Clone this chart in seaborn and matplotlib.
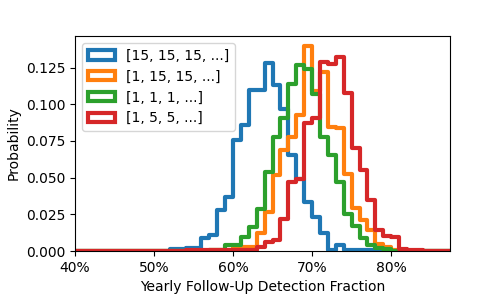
import numpy as np
import pandas as pd
import matplotlib
matplotlib.use("Agg")
import matplotlib.pyplot as plt
from matplotlib.patches import Patch
from matplotlib.ticker import PercentFormatter
import seaborn as sns

# 구간(1% 폭) 시작값과 각 시리즈의 확률값
labels = ["[15, 15, 15, ...]", "[1, 15, 15, ...]", "[1, 1, 1, ...]", "[1, 5, 5, ...]"]
colors = ["#1f77b4", "#ff7f0e", "#2ca02c", "#d62728"]

blue_start = 51
blue = [0.0003, 0.0011, 0.0011, 0.0022, 0.0022, 0.0087, 0.0109, 0.028, 0.037,
        0.0757, 0.086, 0.110, 0.110, 0.128, 0.113, 0.0966, 0.0655, 0.0489,
        0.0336, 0.0234, 0.0121, 0.0007, 0.0041, 0.001, 0.001, 0.001, 0.0005]

orange_start = 57
orange = [0.0005, 0.001, 0.001, 0.002, 0.003, 0.003, 0.0125, 0.0268, 0.0518,
          0.0689, 0.078, 0.0928, 0.1395, 0.1087, 0.1223, 0.0848, 0.0835,
          0.0525, 0.0295, 0.0213, 0.0143, 0.0045, 0.0025, 0.0005]

green_start = 56
green = [0.0003, 0.001, 0.001, 0.004, 0.004, 0.0098, 0.0166, 0.029, 0.054,
         0.078, 0.0905, 0.114, 0.127, 0.124, 0.107, 0.078, 0.0655, 0.047,
         0.025, 0.017, 0.009, 0.004, 0.0018, 0.0015]

red_start = 52
red = [0.0003, 0.0003, 0.0005, 0.0005, 0.0005, 0.0007, 0.0007, 0.0007, 0.001,
       0.001, 0.001, 0.003, 0.0064, 0.0075, 0.0216, 0.047, 0.049, 0.087,
       0.0905, 0.1285, 0.1275, 0.1325, 0.108, 0.070, 0.055, 0.0345, 0.0143,
       0.0105, 0.0095, 0.0012, 0.0005, 0.0005, 0.0003]

bin_lo, bin_hi = 40, 88  # percent
edges = np.arange(bin_lo, bin_hi + 1) / 100
centers = (edges[:-1] + edges[1:]) / 2


def to_weights(start, vals):
    w = np.zeros(len(centers))
    i0 = start - bin_lo
    w[i0:i0 + len(vals)] = vals
    return w


series = [(blue_start, blue), (orange_start, orange),
          (green_start, green), (red_start, red)]

fig, ax = plt.subplots(figsize=(5, 3), dpi=100)
fig.subplots_adjust(left=0.15, right=0.9, bottom=0.163, top=0.88)

for (start, vals), lab, col in zip(series, labels, colors):
    df = pd.DataFrame({"frac": centers, "weight": to_weights(start, vals)})
    sns.histplot(data=df, x="frac", weights="weight", bins=edges.tolist(),
                 element="step", fill=False, color=col, linewidth=3, ax=ax)

ax.set_xlim(0.40, 0.8745)
ax.xaxis.set_major_formatter(PercentFormatter(1.0, decimals=0))
ax.set_xlabel("Yearly Follow-Up Detection Fraction")
ax.set_ylabel("Probability")

handles = [Patch(facecolor="none", edgecolor=c, linewidth=3, label=l)
           for l, c in zip(labels, colors)]
ax.legend(handles=handles, loc="upper left")

fig.savefig("out.png", dpi=100)
